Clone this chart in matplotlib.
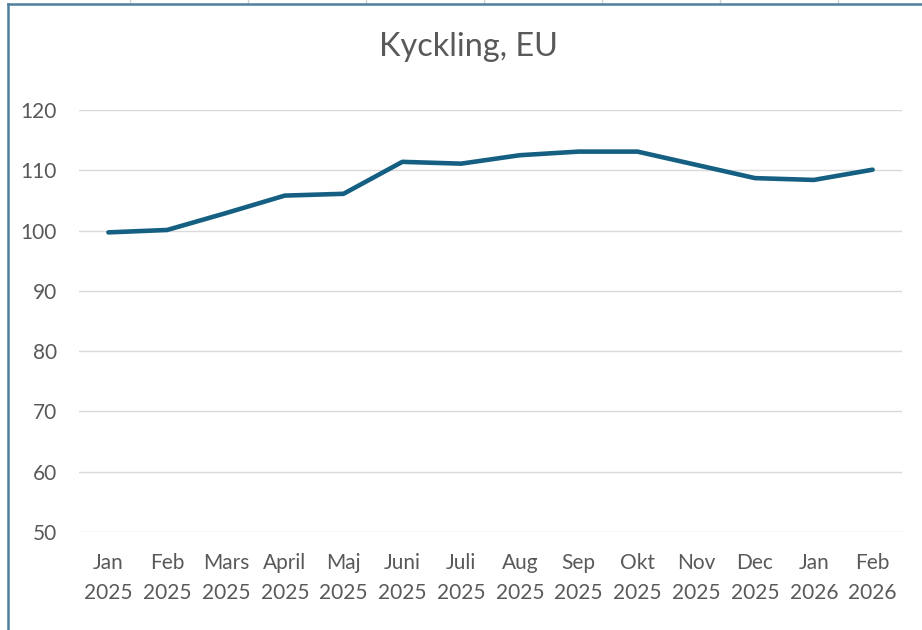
import matplotlib.pyplot as plt
from matplotlib.lines import Line2D

# Data
months = ['Jan\n2025', 'Feb\n2025', 'Mars\n2025', 'April\n2025', 'Maj\n2025', 'Juni\n2025',
          'Juli\n2025', 'Aug\n2025', 'Sep\n2025', 'Okt\n2025', 'Nov\n2025', 'Dec\n2025',
          'Jan\n2026', 'Feb\n2026']
index_values = [99.7, 100.1, 102.9, 105.8, 106.1, 111.4, 111.1, 112.5, 113.1, 113.1,
                110.9, 108.7, 108.4, 110.1]
y_ticks = [50, 60, 70, 80, 90, 100, 110, 120]

plt.rcParams['font.family'] = ['Lato', 'DejaVu Sans']

W, H = 922, 630
fig = plt.figure(figsize=(W / 100, H / 100), dpi=100)
ax = fig.add_axes([79 / W, 1 - 532 / H, (902 - 79) / W, (532 - 110) / H])

x = range(len(months))
ax.plot(x, index_values, color='#156082', linewidth=3.3, solid_capstyle='round',
        solid_joinstyle='round', zorder=3)

ax.set_xlim(-0.5, len(months) - 0.5)
ax.set_ylim(50, 120)
ax.set_yticks(y_ticks)
ax.set_xticks(list(x))
ax.set_xticklabels(months, linespacing=1.65)
ax.grid(axis='y', color='#d9d9d9', linewidth=1.0)
ax.set_axisbelow(True)
for s in ax.spines.values():
    s.set_visible(False)
ax.tick_params(axis='both', length=0, colors='#595959', labelsize=15)
ax.tick_params(axis='y', pad=16)
ax.tick_params(axis='x', pad=15)

fig.text(468 / W, 1 - 47 / H, 'Kyckling, EU', ha='center', va='center',
         fontsize=23.3, color='#595959')

# spreadsheet cell lines above the chart and the chart border
for cx in [130, 248, 366, 484, 602, 720, 838]:
    fig.add_artist(Line2D([cx / W, cx / W], [1, 1 - 4 / H], color='#d0d0d0', linewidth=1))
fig.add_artist(Line2D([8 / W, 1], [1 - 4 / H, 1 - 4 / H], color='#4f7f9c', linewidth=1.8))
fig.add_artist(Line2D([8 / W, 8 / W], [1 - 4 / H, 0], color='#4f7f9c', linewidth=1.8))

fig.savefig('out.png', dpi=100)
